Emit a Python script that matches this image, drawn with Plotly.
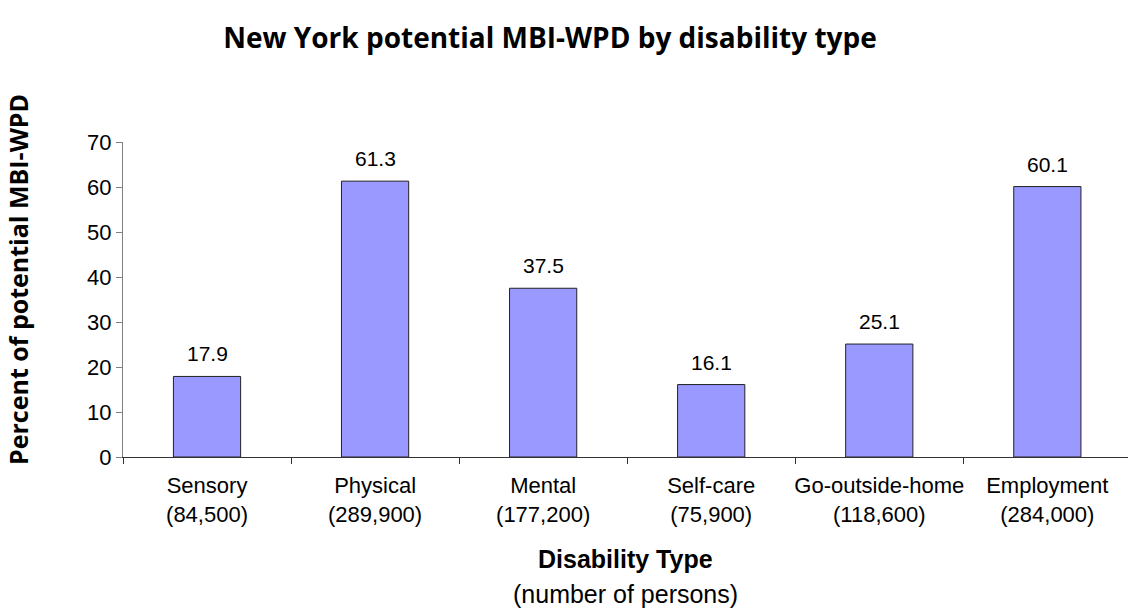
import plotly.graph_objects as go

# Disability categories, person counts and potential MBI-WPD percentages
categories = ["Sensory", "Physical", "Mental", "Self-care", "Go-outside-home", "Employment"]
persons = ["(84,500)", "(289,900)", "(177,200)", "(75,900)", "(118,600)", "(284,000)"]
percent = [17.9, 61.3, 37.5, 16.1, 25.1, 60.1]

tick_text = [f"{c}<br>{p}" for c, p in zip(categories, persons)]

ARIAL = "Arial, Liberation Sans, sans-serif"

fig = go.Figure()
fig.add_trace(go.Bar(
    x=categories,
    y=percent,
    width=0.4,
    marker=dict(color="#9999FF", line=dict(color="#222222", width=1)),
    hoverinfo="x+y",
))

# Value labels above each bar
for c, v in zip(categories, percent):
    fig.add_annotation(
        x=c, y=v, text=f"{v:.1f}", showarrow=False,
        yanchor="bottom", yshift=9,
        font=dict(family=ARIAL, size=21, color="#000000"),
    )

# Rotated y-axis title
fig.add_annotation(
    xref="paper", yref="paper", x=0, y=0.562, xshift=-105,
    text="<b>Percent of potential MBI-WPD</b>", textangle=-90,
    showarrow=False, xanchor="center", yanchor="middle",
    font=dict(family="Open Sans", size=25, color="#000000"),
)

# x-axis title, two lines
fig.add_annotation(
    xref="paper", yref="paper", x=0.5, y=0, yshift=-102,
    text="<b>Disability Type</b>", showarrow=False,
    xanchor="center", yanchor="middle",
    font=dict(family=ARIAL, size=25, color="#000000"),
)
fig.add_annotation(
    xref="paper", yref="paper", x=0.5, y=0, yshift=-137,
    text="(number of persons)", showarrow=False,
    xanchor="center", yanchor="middle",
    font=dict(family=ARIAL, size=25, color="#000000"),
)

fig.update_layout(
    width=1128, height=608,
    margin=dict(l=123, r=0, t=142, b=151, autoexpand=False),
    paper_bgcolor="white", plot_bgcolor="white",
    showlegend=False,
    title=dict(
        text="<b>New York potential MBI-WPD by disability type</b>",
        x=550 / 1128, xref="container", xanchor="center",
        y=1 - 38 / 608, yref="container", yanchor="middle",
        font=dict(family="Open Sans", size=28, color="#000000"),
    ),
    font=dict(family=ARIAL, size=21, color="#000000"),
)

fig.update_xaxes(
    type="category",
    range=[-0.5, 5.48],
    tickmode="array", tickvals=categories, ticktext=tick_text,
    tickangle=0, automargin=False, ticklabelstandoff=9,
    tickson="boundaries", ticks="outside", ticklen=6, tickcolor="#333333",
    showline=True, linecolor="#333333", linewidth=1,
    showgrid=False, zeroline=False,
    tickfont=dict(family=ARIAL, size=22),
)

fig.update_yaxes(
    range=[0, 70], dtick=10, automargin=False,
    ticks="outside", ticklen=6, tickcolor="#808080",
    showline=True, linecolor="#808080", linewidth=1,
    showgrid=False, zeroline=False,
    tickfont=dict(family=ARIAL, size=22),
)

fig.write_html("out.html")
